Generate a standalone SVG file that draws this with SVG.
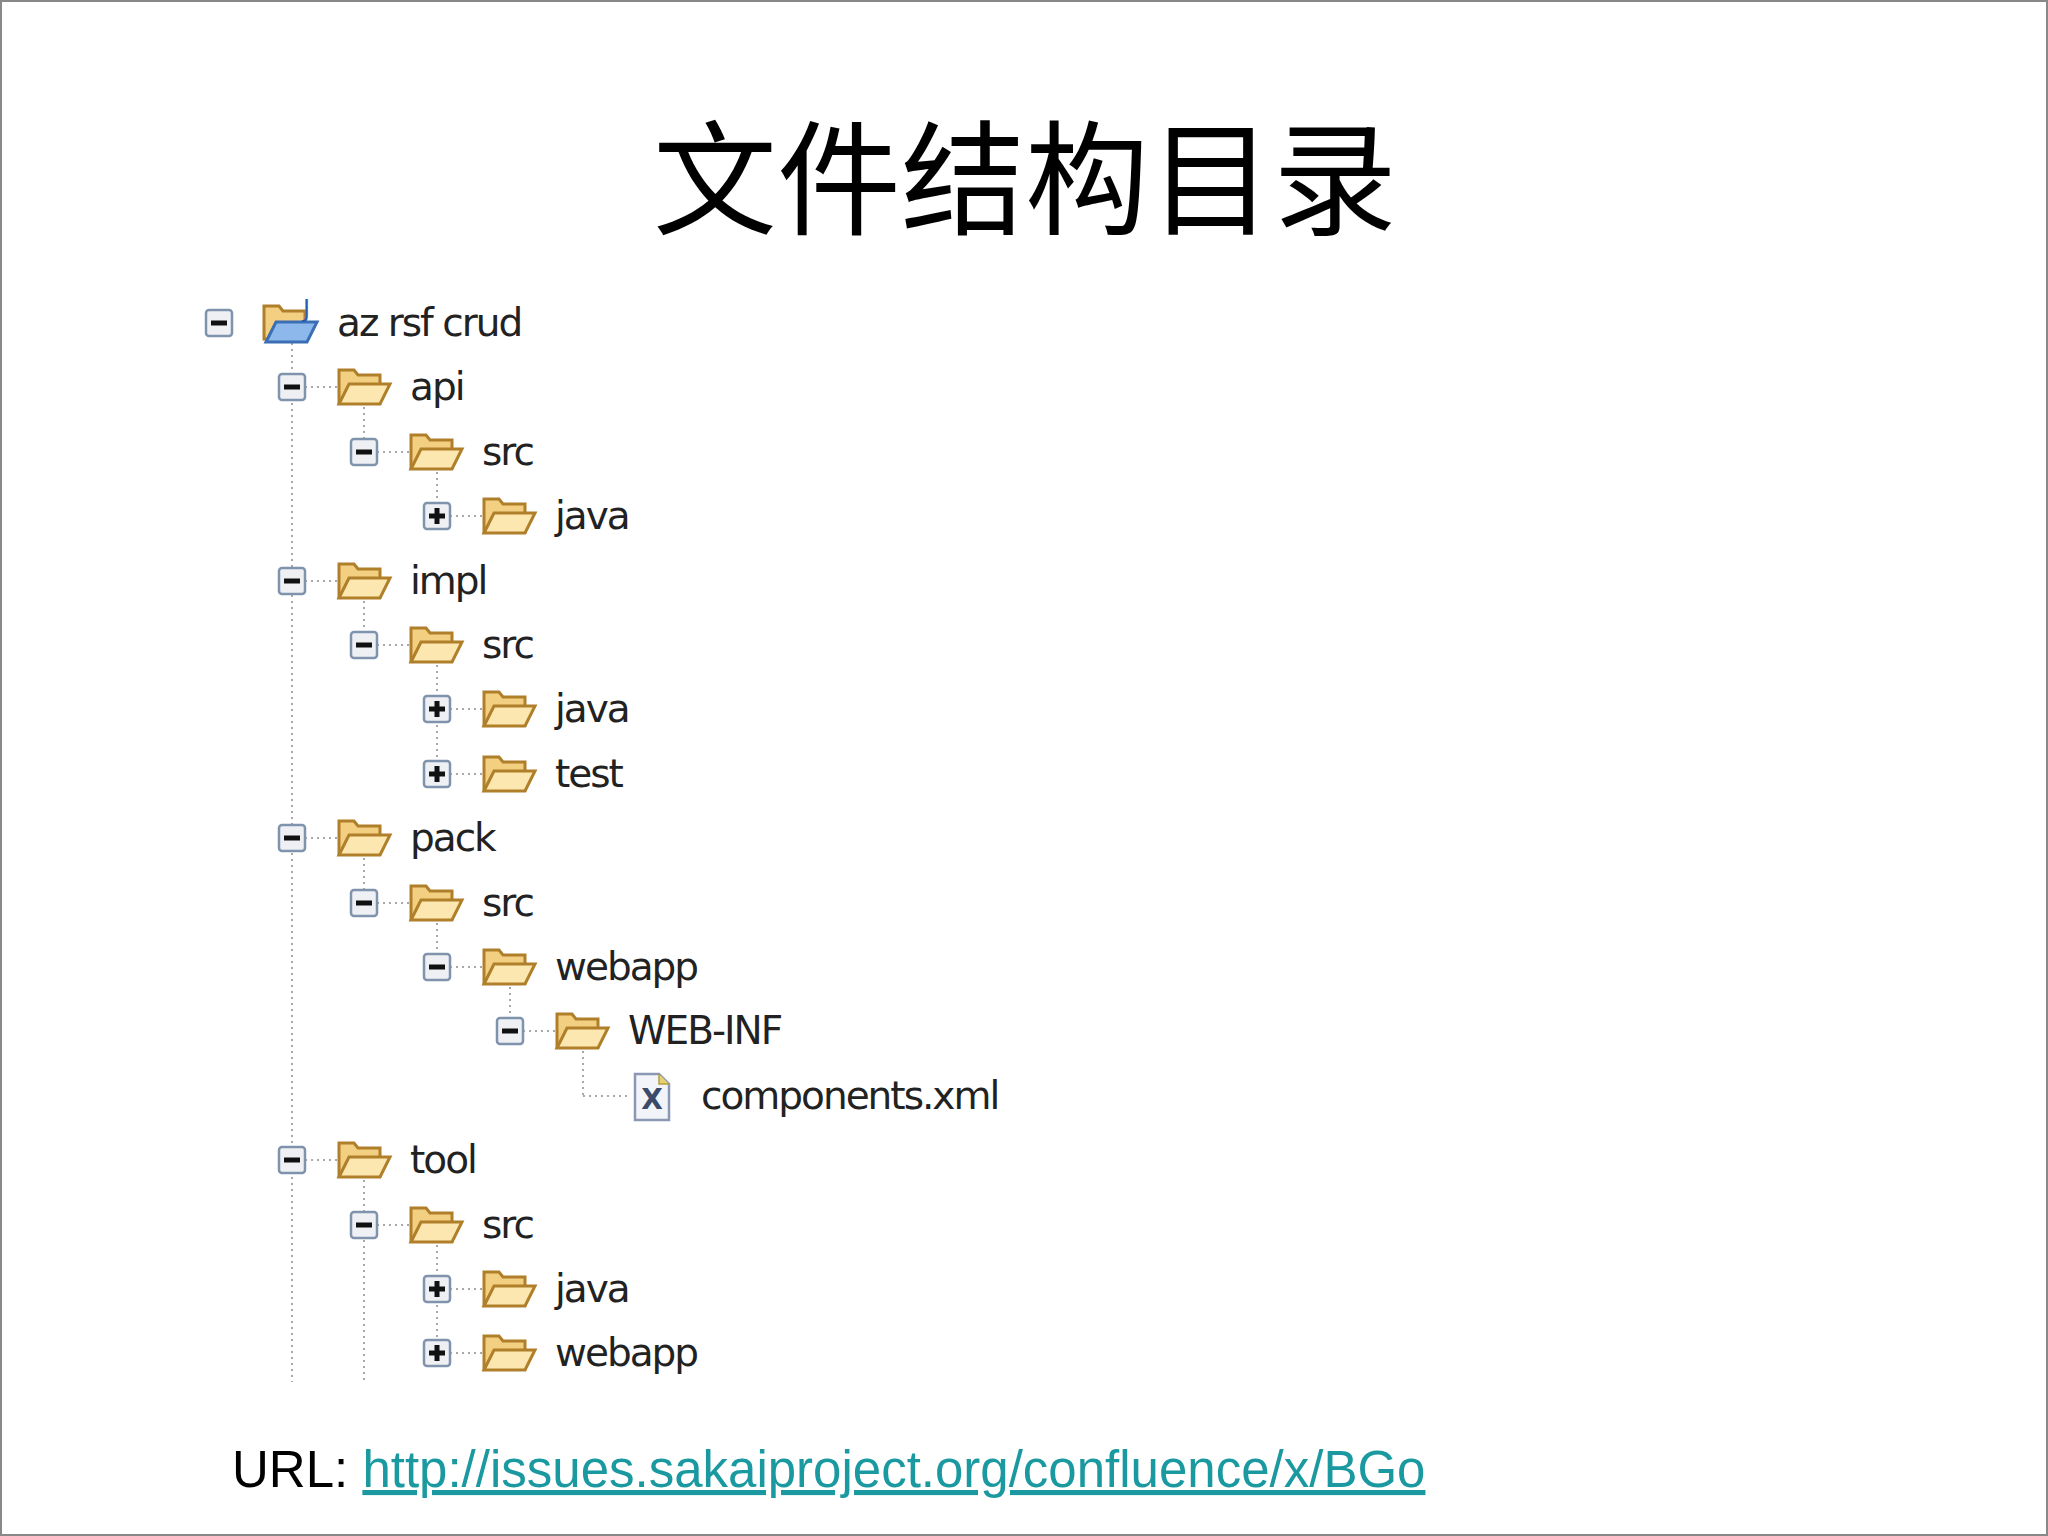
<svg xmlns="http://www.w3.org/2000/svg" width="2048" height="1536" viewBox="0 0 2048 1536">
<style>
.t{font-family:"DejaVu Sans","Liberation Sans",sans-serif;font-size:39px;letter-spacing:-2px;fill:#222}
.dl{stroke:#a8a8a8;stroke-width:2;stroke-dasharray:2 4;fill:none}
</style>
<defs>
<g id="tog"><rect x="-13" y="-13" width="26" height="26" rx="3" fill="#eef0f4" stroke="#7f93ad" stroke-width="2.5"/></g>
<g id="minus"><use href="#tog"/><rect x="-8" y="-2.5" width="16" height="5" fill="#111"/></g>
<g id="plus"><use href="#tog"/><rect x="-8" y="-2.5" width="16" height="5" fill="#111"/><rect x="-2.5" y="-8" width="5" height="16" fill="#111"/></g>
<g id="folder"><path d="M1,-17 h15 l4,5 h22 v28 h-41 z" fill="#f3cf82" stroke="#b07f2a" stroke-width="3"/><path d="M1,17 L11,-3 H52 L42,17 Z" fill="#fde7b0" stroke="#b07f2a" stroke-width="3"/></g>
</defs>
<rect x="1" y="1" width="2046" height="1534" fill="#fff" stroke="#888" stroke-width="2"/>
<text x="1025" y="225" text-anchor="middle" font-family="'Noto Sans CJK SC',sans-serif" font-size="124" fill="#000">文件结构目录</text>
<g id="connectors">
<line class="dl" x1="292" y1="343" x2="292" y2="1382"/>
<line class="dl" x1="364" y1="407" x2="364" y2="440"/>
<line class="dl" x1="437" y1="472" x2="437" y2="504"/>
<line class="dl" x1="364" y1="601" x2="364" y2="633"/>
<line class="dl" x1="437" y1="665" x2="437" y2="762"/>
<line class="dl" x1="364" y1="858" x2="364" y2="891"/>
<line class="dl" x1="437" y1="923" x2="437" y2="955"/>
<line class="dl" x1="510" y1="987" x2="510" y2="1019"/>
<line class="dl" x1="583" y1="1051" x2="583" y2="1096"/>
<line class="dl" x1="583" y1="1096" x2="630" y2="1096"/>
<line class="dl" x1="364" y1="1180" x2="364" y2="1382"/>
<line class="dl" x1="437" y1="1245" x2="437" y2="1341"/>
<line class="dl" x1="305" y1="387" x2="338" y2="387"/>
<line class="dl" x1="377" y1="452" x2="410" y2="452"/>
<line class="dl" x1="450" y1="516" x2="483" y2="516"/>
<line class="dl" x1="305" y1="581" x2="338" y2="581"/>
<line class="dl" x1="377" y1="645" x2="410" y2="645"/>
<line class="dl" x1="450" y1="709" x2="483" y2="709"/>
<line class="dl" x1="450" y1="774" x2="483" y2="774"/>
<line class="dl" x1="305" y1="838" x2="338" y2="838"/>
<line class="dl" x1="377" y1="903" x2="410" y2="903"/>
<line class="dl" x1="450" y1="967" x2="483" y2="967"/>
<line class="dl" x1="523" y1="1031" x2="556" y2="1031"/>
<line class="dl" x1="305" y1="1160" x2="338" y2="1160"/>
<line class="dl" x1="377" y1="1225" x2="410" y2="1225"/>
<line class="dl" x1="450" y1="1289" x2="483" y2="1289"/>
<line class="dl" x1="450" y1="1353" x2="483" y2="1353"/>
</g>
<g id="n0" transform="translate(219,323)"><use href="#minus"/>
<path d="M45,-17 h15 l4,5 h22 v28 h-41 z" fill="#f3cf82" stroke="#b07f2a" stroke-width="3"/>
<path d="M47,19 L57,-1 H98 L88,19 Z" fill="#8db8ec" stroke="#3b6fb5" stroke-width="3"/>
<text x="84" y="-6" font-family="'DejaVu Sans',sans-serif" font-size="24" fill="#2a5db0">J</text>
<text class="t" x="118" y="13">az rsf crud</text></g>
<g id="n1" transform="translate(292,387)"><use href="#minus"/><use href="#folder" x="46"/><text class="t" x="118" y="13">api</text></g>
<g id="n2" transform="translate(364,452)"><use href="#minus"/><use href="#folder" x="46"/><text class="t" x="118" y="13">src</text></g>
<g id="n3" transform="translate(437,516)"><use href="#plus"/><use href="#folder" x="46"/><text class="t" x="118" y="13">java</text></g>
<g id="n4" transform="translate(292,581)"><use href="#minus"/><use href="#folder" x="46"/><text class="t" x="118" y="13">impl</text></g>
<g id="n5" transform="translate(364,645)"><use href="#minus"/><use href="#folder" x="46"/><text class="t" x="118" y="13">src</text></g>
<g id="n6" transform="translate(437,709)"><use href="#plus"/><use href="#folder" x="46"/><text class="t" x="118" y="13">java</text></g>
<g id="n7" transform="translate(437,774)"><use href="#plus"/><use href="#folder" x="46"/><text class="t" x="118" y="13">test</text></g>
<g id="n8" transform="translate(292,838)"><use href="#minus"/><use href="#folder" x="46"/><text class="t" x="118" y="13">pack</text></g>
<g id="n9" transform="translate(364,903)"><use href="#minus"/><use href="#folder" x="46"/><text class="t" x="118" y="13">src</text></g>
<g id="n10" transform="translate(437,967)"><use href="#minus"/><use href="#folder" x="46"/><text class="t" x="118" y="13">webapp</text></g>
<g id="n11" transform="translate(510,1031)"><use href="#minus"/><use href="#folder" x="46"/><text class="t" x="118" y="13">WEB-INF</text></g>
<g id="n12" transform="translate(583,1096)">
<path d="M52,-22 h24 l10,10 v36 h-34 z" fill="#f2f4fa" stroke="#8a98b5" stroke-width="2.5"/><path d="M76,-22 v10 h10" fill="#e8d070" stroke="#b0a040" stroke-width="1.5"/>
<text x="69" y="13" text-anchor="middle" font-family="'DejaVu Sans',sans-serif" font-weight="bold" font-size="28" fill="#3a4a6a">X</text>
<text class="t" x="118" y="13">components.xml</text></g>
<g id="n13" transform="translate(292,1160)"><use href="#minus"/><use href="#folder" x="46"/><text class="t" x="118" y="13">tool</text></g>
<g id="n14" transform="translate(364,1225)"><use href="#minus"/><use href="#folder" x="46"/><text class="t" x="118" y="13">src</text></g>
<g id="n15" transform="translate(437,1289)"><use href="#plus"/><use href="#folder" x="46"/><text class="t" x="118" y="13">java</text></g>
<g id="n16" transform="translate(437,1353)"><use href="#plus"/><use href="#folder" x="46"/><text class="t" x="118" y="13">webapp</text></g>
<text x="232" y="1487" font-family="'Liberation Sans',Arial,sans-serif" font-size="51" fill="#000">URL: <tspan fill="#1a9aa0" text-decoration="underline">http://issues.sakaiproject.org/confluence/x/BGo</tspan></text>
</svg>
